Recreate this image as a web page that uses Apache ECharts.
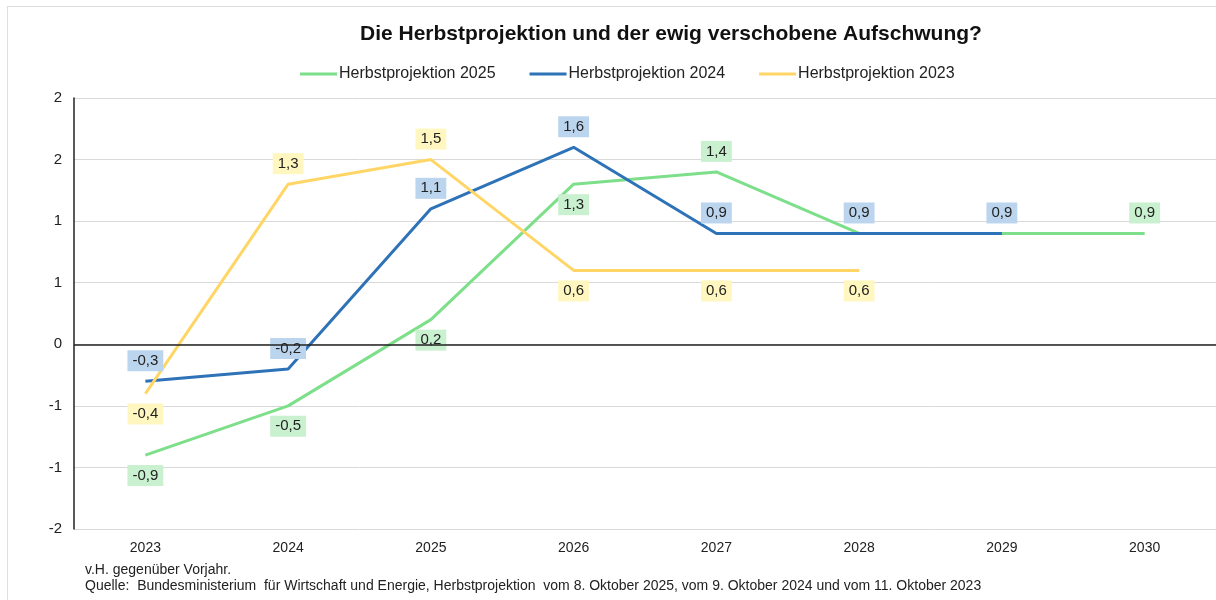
<!DOCTYPE html>
<html>
<head>
<meta charset="utf-8">
<script src="https://cdn.jsdelivr.net/npm/echarts@6/dist/echarts.min.js"></script>
<style>
  html, body { margin: 0; padding: 0; background: #fff; }
  #frame { position: absolute; left: 7px; top: 6px; width: 1220px; height: 600px; border: 1px solid #dedede; box-sizing: border-box; }
  #chart { position: absolute; left: 0; top: 0; width: 1216px; height: 600px; }
</style>
</head>
<body>
<div id="frame"></div>
<div id="chart"></div>
<script>
// Daten (v.H. gegenüber Vorjahr)
const years = ["2023", "2024", "2025", "2026", "2027", "2028", "2029", "2030"];
const hp2025 = [-0.9, -0.5, 0.2, 1.3, 1.4, 0.9, 0.9, 0.9];
const hp2024 = [-0.3, -0.2, 1.1, 1.6, 0.9, 0.9, 0.9, null];
const hp2023 = [-0.4, 1.3, 1.5, 0.6, 0.6, 0.6, null, null];

// Lage der Datenbeschriftung je Punkt
const pos2025 = ["bottom", "bottom", "bottom", "bottom", "top", null, null, "top"];
const pos2024 = ["top", "top", "top", "top", "top", "top", "top", null];
const pos2023 = ["bottom", "top", "top", "bottom", "bottom", "bottom", null, null];

const FONT = "Liberation Sans, Arial, sans-serif";
const fmt = v => String(v).replace(".", ",");

function buildData(values, positions, bg) {
  return values.map((v, i) => {
    if (v === null) return null;
    const p = positions[i];
    return {
      value: v,
      label: p ? {
        show: true,
        position: p,
        distance: 10,
        formatter: fmt(v),
        backgroundColor: bg,
        padding: [3, 5, 3, 5],
        color: "#222",
        fontSize: 15,
        fontFamily: FONT
      } : { show: false }
    };
  });
}

function makeSeries(name, values, positions, color, bg) {
  return {
    name: name,
    type: "line",
    data: buildData(values, positions, bg),
    symbol: "circle",
    symbolSize: 0,
    showSymbol: true,
    lineStyle: { color: color, width: 3 },
    itemStyle: { color: color },
    connectNulls: false,
    animation: false
  };
}

const chart = echarts.init(document.getElementById("chart"));
const series = [
  makeSeries("Herbstprojektion 2025", hp2025, pos2025, "#7ddf8a", "#c9f0cf"),
  makeSeries("Herbstprojektion 2024", hp2024, pos2024, "#2e72b8", "#bcd5ee"),
  makeSeries("Herbstprojektion 2023", hp2023, pos2023, "#ffd666", "#fff7bf")
];
// Nulllinie
series[0].markLine = {
  silent: true,
  symbol: "none",
  label: { show: false },
  lineStyle: { color: "#222", width: 1.5, type: "solid" },
  data: [{ yAxis: 0 }]
};

chart.setOption({
  textStyle: { fontFamily: FONT },
  title: {
    text: "Die Herbstprojektion und der ewig verschobene Aufschwung?",
    left: 355,
    top: 19,
    textStyle: { fontSize: 21, fontWeight: "bold", color: "#111" }
  },
  legend: {
    left: 295,
    top: 61,
    icon: "rect",
    itemWidth: 37,
    itemHeight: 3,
    itemGap: 34,
    textStyle: { fontSize: 16, color: "#222", padding: [0, 0, 0, -3] }
  },
  grid: { left: 74, right: 0, top: 98, bottom: 71 },
  xAxis: {
    type: "category",
    data: years,
    boundaryGap: true,
    axisLine: { show: false, onZero: false },
    axisTick: { show: false },
    axisLabel: { fontSize: 14, color: "#222", margin: 12 }
  },
  yAxis: {
    type: "value",
    min: -1.5,
    max: 2,
    interval: 0.5,
    axisLine: { show: true, lineStyle: { color: "#222", width: 1.5 } },
    axisTick: { show: false },
    splitLine: { lineStyle: { color: "#d9d9d9", width: 1 } },
    axisLabel: {
      fontSize: 15,
      color: "#222",
      margin: 12,
      formatter: v => {
        const r = Math.sign(v) * Math.round(Math.abs(v));
        return r === 0 ? "0" : String(r);
      }
    }
  },
  graphic: [
    {
      type: "text",
      left: 85,
      top: 563,
      style: { text: "v.H. gegenüber Vorjahr.", fontSize: 14, fill: "#222", fontFamily: FONT }
    },
    {
      type: "text",
      left: 85,
      top: 579,
      style: {
        text: "Quelle:  Bundesministerium  für Wirtschaft und Energie, Herbstprojektion  vom 8. Oktober 2025, vom 9. Oktober 2024 und vom 11. Oktober 2023",
        fontSize: 14, fill: "#222", fontFamily: FONT
      }
    }
  ],
  series: series
});
</script>
</body>
</html>
